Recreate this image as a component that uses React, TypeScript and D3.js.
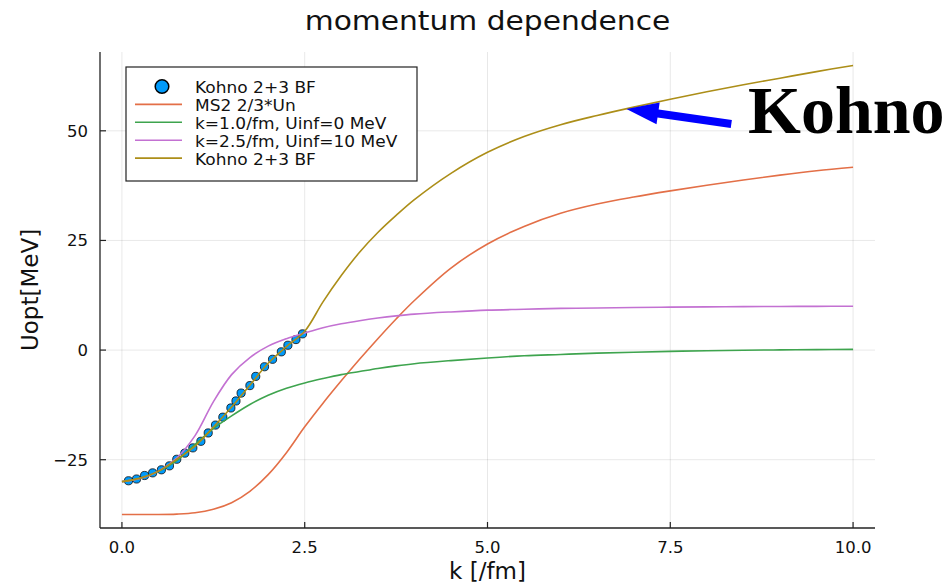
import React from "react";
import * as d3 from "d3";

// ---------- data ----------
const kohnoK = [0.09, 0.2, 0.31, 0.42, 0.54, 0.65, 0.75, 0.86, 0.97, 1.08, 1.18, 1.28, 1.38, 1.49, 1.56, 1.63, 1.75, 1.83, 1.95, 2.06, 2.18, 2.27, 2.38, 2.47];
const kohnoU = [-29.8, -29.4, -28.6, -28.0, -27.3, -26.4, -24.9, -23.5, -22.3, -20.8, -18.9, -17.1, -15.3, -13.2, -11.6, -9.8, -8.1, -6.0, -3.8, -2.1, -0.4, 1.1, 2.4, 3.7];

const kGrid = [0, 0.25, 0.5, 0.75, 1, 1.25, 1.5, 1.75, 2, 2.25, 2.5, 2.75, 3, 3.25, 3.5, 3.75, 4, 4.5, 5, 5.5, 6, 6.5, 7, 7.5, 8, 8.5, 9, 9.5, 10];
const ms2U = [-37.5, -37.5, -37.5, -37.4, -37.1, -36.3, -34.8, -32.2, -28.4, -23.4, -17.5, -12.1, -7.0, -2.1, 2.6, 7.1, 11.3, 18.7, 24.2, 28.2, 31.2, 33.3, 34.9, 36.3, 37.6, 38.8, 39.9, 40.9, 41.7];
const k1U = [-30.0, -29.3, -27.7, -25.2, -21.5, -17.9, -15.0, -12.4, -10.3, -8.7, -7.5, -6.5, -5.6, -4.9, -4.2, -3.6, -3.1, -2.4, -1.8, -1.3, -1.0, -0.7, -0.5, -0.3, -0.15, -0.05, 0.05, 0.1, 0.15];
const k25U = [-30.0, -29.3, -27.6, -24.6, -19.5, -11.8, -5.6, -1.7, 0.9, 2.6, 3.9, 5.1, 6.0, 6.7, 7.3, 7.8, 8.2, 8.7, 9.1, 9.3, 9.5, 9.6, 9.7, 9.8, 9.85, 9.9, 9.95, 9.97, 10.0];
const bfU = [-30.0, -29.2, -27.6, -24.9, -21.9, -17.6, -13.0, -8.0, -3.0, 0.8, 4.3, 11.0, 17.0, 22.3, 26.8, 30.7, 34.3, 40.3, 45.1, 48.7, 51.4, 53.5, 55.4, 57.2, 58.9, 60.5, 62.0, 63.5, 64.9];

const seriesNames = ["Kohno 2+3 BF", "MS2 2/3*Un", "k=1.0/fm, Uinf=0 MeV", "k=2.5/fm, Uinf=10 MeV", "Kohno 2+3 BF"];
const seriesColors = ["#009AFA", "#E36F47", "#3EA44E", "#C371D2", "#AC8E18"];
const lineSeries = [ms2U, k1U, k25U, bfU];

const xTicks = [0, 2.5, 5, 7.5, 10];
const xTickLabels = ["0.0", "2.5", "5.0", "7.5", "10.0"];
const yTicks = [-25, 0, 25, 50];
const yTickLabels = ["\u221225", "0", "25", "50"];

const titleText = "momentum dependence";
const xLabel = "k [/fm]";
const yLabel = "Uopt[MeV]";
const annotText = "Kohno";
const annotK = 6.9;
const annotU = 55.0;

// ---------- layout ----------
const W = 945;
const H = 584;
const PL = 100, PR = 875, PT = 52, PB = 528;
const FONT = "'DejaVu Sans', sans-serif";

export default function App() {
  const allK = [...kGrid, ...kohnoK];
  const allU = [...ms2U, ...k1U, ...k25U, ...bfU, ...kohnoU];
  const [k0, k1] = d3.extent(allK) as [number, number];
  const [u0, u1] = d3.extent(allU) as [number, number];
  const kPad = (k1 - k0) * 0.03;
  const uPad = (u1 - u0) * 0.03;
  const x = d3.scaleLinear().domain([k0 - kPad, k1 + kPad]).range([PL, PR]);
  const y = d3.scaleLinear().domain([u0 - uPad, u1 + uPad]).range([PB, PT]);

  const line = d3
    .line<number>()
    .x((_, i) => x(kGrid[i]))
    .y((d) => y(d))
    .curve(d3.curveCatmullRom.alpha(0.5));

  // arrow
  const tipX = x(annotK);
  const tipY = y(annotU);
  const dir = [0.9896, 0.1427];
  const per = [-0.1427, 0.9896];
  const hl = 32, hw = 11, sw = 4, len = 106;
  const P = (a: number, b: number) => [tipX + dir[0] * a + per[0] * b, tipY + dir[1] * a + per[1] * b].join(",");
  const arrowPts = [P(0, 0), P(hl, hw), P(hl, sw), P(len, sw), P(len, -sw), P(hl, -sw), P(hl, -hw)].join(" ");

  const legX = 126, legY = 67, legW = 291, legH = 114;
  const rowBase = (i: number) => 93.3 + 17.9 * i;

  return (
    <svg width={W} height={H} style={{ position: "absolute", left: 0, top: 0, background: "#fff" }} fontFamily={FONT}>
      <rect x={0} y={0} width={W} height={H} fill="#fff" />
      {/* grid */}
      {xTicks.map((t) => (
        <line key={"gx" + t} x1={x(t)} x2={x(t)} y1={PT} y2={PB} stroke="#000" strokeOpacity={0.1} strokeWidth={0.9} />
      ))}
      {yTicks.map((t) => (
        <line key={"gy" + t} x1={PL} x2={PR} y1={y(t)} y2={y(t)} stroke="#000" strokeOpacity={0.1} strokeWidth={0.9} />
      ))}
      {/* axes */}
      <line x1={PL} x2={PR} y1={PB} y2={PB} stroke="#222" strokeWidth={1.3} />
      <line x1={PL} x2={PL} y1={PT} y2={PB} stroke="#222" strokeWidth={1.3} />
      {xTicks.map((t, i) => (
        <g key={"xt" + t}>
          <line x1={x(t)} x2={x(t)} y1={PB} y2={PB - 6} stroke="#222" strokeWidth={1.2} />
          <text x={x(t)} y={553} fontSize={16.5} textAnchor="middle" fill="#111">
            {xTickLabels[i]}
          </text>
        </g>
      ))}
      {yTicks.map((t, i) => (
        <g key={"yt" + t}>
          <line x1={PL} x2={PL + 6} y1={y(t)} y2={y(t)} stroke="#222" strokeWidth={1.2} />
          <text x={88} y={y(t)} dy="0.36em" fontSize={16.5} textAnchor="end" fill="#111">
            {yTickLabels[i]}
          </text>
        </g>
      ))}
      {/* scatter */}
      {kohnoK.map((k, i) => (
        <circle key={"p" + i} cx={x(k)} cy={y(kohnoU[i])} r={4.1} fill={seriesColors[0]} stroke="#000" strokeOpacity={0.75} strokeWidth={1} />
      ))}
      {/* lines */}
      {lineSeries.map((s, i) => (
        <path key={"l" + i} d={line(s) || ""} fill="none" stroke={seriesColors[i + 1]} strokeWidth={1.6} />
      ))}
      {/* title & labels */}
      <text transform={`translate(${(PL + PR) / 2},30) scale(1.1,1)`} fontSize={27} textAnchor="middle" fill="#111">
        {titleText}
      </text>
      <text x={(PL + PR) / 2} y={579} fontSize={23} textAnchor="middle" fill="#111">
        {xLabel}
      </text>
      <text transform={`translate(38,${(PT + PB) / 2}) rotate(-90)`} fontSize={23} textAnchor="middle" fill="#111">
        {yLabel}
      </text>
      {/* legend */}
      <rect x={legX} y={legY} width={legW} height={legH} fill="#fff" stroke="#222" strokeWidth={1.2} />
      {seriesNames.map((n, i) => (
        <g key={"lg" + i}>
          {i === 0 ? (
            <circle cx={162} cy={rowBase(i) - 6.8} r={6.8} fill={seriesColors[0]} stroke="#000" strokeWidth={1.5} />
          ) : (
            <line x1={135} x2={182} y1={rowBase(i) - 6.8} y2={rowBase(i) - 6.8} stroke={seriesColors[i]} strokeWidth={1.6} />
          )}
          <text transform={`translate(195,${rowBase(i)}) scale(1.12,1)`} fontSize={15.2} fill="#111">
            {n}
          </text>
        </g>
      ))}
      {/* annotation */}
      <polygon points={arrowPts} fill="#0000FF" />
      <text x={748} y={133} fontSize={68} fontWeight="bold" fontFamily="'Liberation Serif', 'Times New Roman', serif" fill="#000">
        {annotText}
      </text>
    </svg>
  );
}
